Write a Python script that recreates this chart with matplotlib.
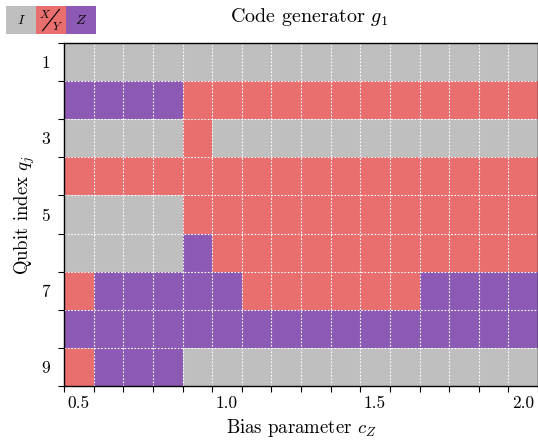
import numpy as np
import matplotlib
matplotlib.use("Agg")
import matplotlib.pyplot as plt
from matplotlib.colors import ListedColormap

plt.rcParams["font.family"] = ["cmr10", "DejaVu Serif"]
plt.rcParams["mathtext.fontset"] = "cm"
plt.rcParams["axes.formatter.use_mathtext"] = True

# bias parameter values (column centres) and qubit indices
bias = [0.5, 0.6, 0.7, 0.8, 0.9, 1.0, 1.1, 1.2, 1.3, 1.4, 1.5, 1.6, 1.7, 1.8, 1.9, 2.0]
qubits = [1, 2, 3, 4, 5, 6, 7, 8, 9]

# Pauli on each qubit: 0 = I, 1 = X/Y, 2 = Z
q1 = [0, 0, 0, 0, 0, 0, 0, 0, 0, 0, 0, 0, 0, 0, 0, 0]
q2 = [2, 2, 2, 2, 1, 1, 1, 1, 1, 1, 1, 1, 1, 1, 1, 1]
q3 = [0, 0, 0, 0, 1, 0, 0, 0, 0, 0, 0, 0, 0, 0, 0, 0]
q4 = [1, 1, 1, 1, 1, 1, 1, 1, 1, 1, 1, 1, 1, 1, 1, 1]
q5 = [0, 0, 0, 0, 1, 1, 1, 1, 1, 1, 1, 1, 1, 1, 1, 1]
q6 = [0, 0, 0, 0, 2, 1, 1, 1, 1, 1, 1, 1, 1, 1, 1, 1]
q7 = [1, 2, 2, 2, 2, 2, 1, 1, 1, 1, 1, 1, 2, 2, 2, 2]
q8 = [2, 2, 2, 2, 2, 2, 2, 2, 2, 2, 2, 2, 2, 2, 2, 2]
q9 = [1, 2, 2, 2, 0, 0, 0, 0, 0, 0, 0, 0, 0, 0, 0, 0]

pauli_colors = ["#bfbfbf", "#e96e6e", "#8c5ab5"]
cmap = ListedColormap(pauli_colors)

grid = np.array([q1, q2, q3, q4, q5, q6, q7, q8, q9])
step = 0.1
x_edges = np.append(np.array(bias) - step / 2, bias[-1] + step / 2)
y_edges = np.arange(len(qubits) + 1) + 0.5

fig = plt.figure(figsize=(5.38, 4.40), dpi=100)
ax = fig.add_axes([0.119, 0.122, 0.881, 0.781])
ax.pcolormesh(x_edges, y_edges, grid, cmap=cmap, vmin=-0.5, vmax=2.5)
ax.set_xlim(x_edges[0], x_edges[-1])
ax.set_ylim(y_edges[-1], y_edges[0])

# grid lines on the cell edges
for xe in x_edges[1:-1]:
    ax.axvline(xe, color="white", lw=0.8, ls=(0, (1.5, 1.5)))
for ye in y_edges[1:-1]:
    ax.axhline(ye, color="white", lw=0.8, ls=(0, (1.5, 1.5)))

# tick marks at cell edges, labels at cell centres
ax.set_xticks(x_edges)
ax.set_xticklabels([])
ax.set_xticks([0.5, 1.0, 1.5, 2.0], minor=True)
ax.set_xticklabels(["0.5", "1.0", "1.5", "2.0"], minor=True)
ax.set_yticks(y_edges)
ax.set_yticklabels([])
ax.set_yticks([1, 3, 5, 7, 9], minor=True)
ax.set_yticklabels(["1", "3", "5", "7", "9"], minor=True)
ax.tick_params(which="major", length=4, width=0.8)
ax.tick_params(axis="x", which="minor", length=0, labelsize=12.5, pad=7)
ax.tick_params(axis="y", which="minor", length=0, labelsize=12.5, pad=10)
for s in ax.spines.values():
    s.set_linewidth(1.0)

ax.set_xlabel(r"Bias parameter $c_Z$", fontsize=13.5, labelpad=4)
ax.set_ylabel(r"Qubit index $q_j$", fontsize=13.5, labelpad=3)
fig.text(0.574, 0.962, r"Code generator $g_1$", fontsize=14.5, ha="center", va="center")

# colour key in the top-left corner
lax = fig.add_axes([6 / 538, 1 - 34 / 440, 90 / 538, 28 / 440])
lax.pcolormesh([0, 1, 2, 3], [0, 1], [[0, 1, 2]], cmap=cmap, vmin=-0.5, vmax=2.5)
lax.set_xlim(0, 3)
lax.set_ylim(0, 1)
lax.axis("off")
lax.text(0.5, 0.5, r"$I$", ha="center", va="center", fontsize=10)
lax.text(1.3, 0.72, r"$X$", ha="center", va="center", fontsize=8.5)
lax.text(1.7, 0.28, r"$Y$", ha="center", va="center", fontsize=8.5)
lax.plot([1.22, 1.78], [0.12, 0.88], color="black", lw=0.8)
lax.text(2.5, 0.5, r"$Z$", ha="center", va="center", fontsize=10)

fig.savefig("out.png", dpi=100)
